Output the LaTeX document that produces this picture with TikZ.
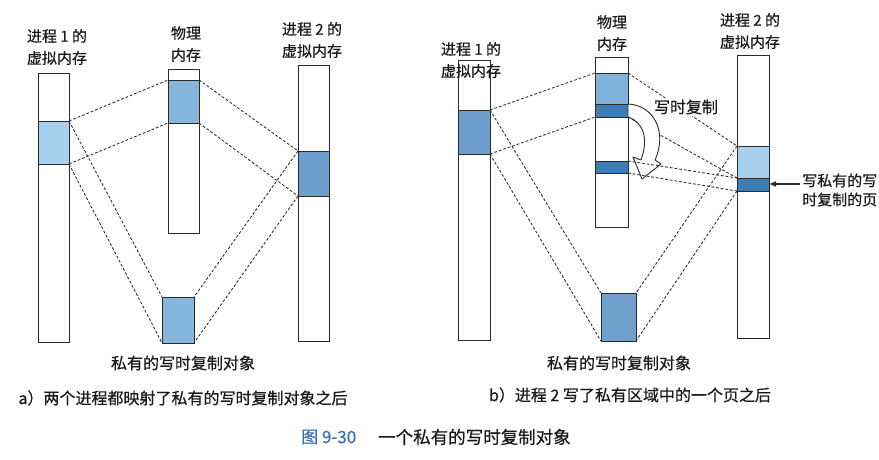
\documentclass[tikz,border=0pt]{standalone}
\usepackage{fontspec}
\setmainfont{Noto Sans CJK SC}[FakeBold=0.5]
\usetikzlibrary{arrows.meta}
\definecolor{linec}{HTML}{2A2A2A}
\definecolor{txtc}{HTML}{1A1A1A}
\definecolor{lightb}{HTML}{A6D0EE}
\definecolor{midb}{HTML}{86B6DE}
\definecolor{deepb}{HTML}{6E9FCC}
\definecolor{darkb}{HTML}{3F7DB7}
\definecolor{capblue}{HTML}{3A6FB0}
\tikzset{
  bar/.style={draw=linec, line width=0.9pt, inner sep=0pt, outer sep=0pt, anchor=north west},
  blk/.style={draw=linec, line width=0.9pt, inner sep=0pt, outer sep=0pt, anchor=north west},
  map/.style={draw=linec, line width=0.85pt, dash pattern=on 2.8pt off 1.9pt},
  lbl/.style={text=txtc, align=center, font=\fontsize{15}{22}\selectfont, inner sep=1pt},
  captext/.style={text=txtc, font=\fontsize{16}{20}\selectfont, inner sep=1pt},
}
\begin{document}
\begin{tikzpicture}[x=1pt,y=-1pt]
\fill[white] (0,0) rectangle (879,459);
\useasboundingbox (0,0) rectangle (879,459);

% ---------------- panel a ----------------
\node[bar, minimum width=31pt, minimum height=269pt] (v1a) at (38,73) {};
\node[blk, fill=lightb, minimum width=31pt, minimum height=43pt] (v1ab) at (38,121) {};
\node[bar, minimum width=31pt, minimum height=164pt] (pma) at (168,69) {};
\node[blk, fill=midb, minimum width=31pt, minimum height=43pt] (pmab) at (168,80) {};
\node[blk, fill=midb, minimum width=32pt, minimum height=46pt] (obja) at (162,297) {};
\node[bar, minimum width=31pt, minimum height=276pt] (v2a) at (298,65) {};
\node[blk, fill=deepb, minimum width=31pt, minimum height=45pt] (v2ab) at (298,151) {};

\node[lbl] (l1a) at (57,47) {进程 1 的\\虚拟内存};
\node[lbl] (l2a) at (186,44) {物理\\内存};
\node[lbl] (l3a) at (312,40) {进程 2 的\\虚拟内存};

\draw[map] (v1ab.north east) -- (pmab.north west);
\draw[map] (v1ab.south east) -- (pmab.south west);
\draw[map] (v1ab.north east) -- (obja.north west);
\draw[map] (v1ab.south east) -- (obja.south west);
\draw[map] (pmab.north east) -- (v2ab.north west);
\draw[map] (pmab.south east) -- (v2ab.south west);
\draw[map] (v2ab.north west) -- (obja.north east);
\draw[map] (v2ab.south west) -- (obja.south east);

\node[captext] (oa) at (183,363) {私有的写时复制对象};
\node[captext] (ca) at (183,398) {a）两个进程都映射了私有的写时复制对象之后};

% ---------------- panel b ----------------
\node[bar, minimum width=32pt, minimum height=280pt] (v1b) at (458,60) {};
\node[blk, fill=deepb, minimum width=32pt, minimum height=44pt] (v1bb) at (458,110) {};
\node[bar, minimum width=33pt, minimum height=170pt] (pmb) at (595,57) {};
\node[blk, fill=midb!85!deepb, minimum width=33pt, minimum height=31pt] (pmbb) at (595,73) {};
\node[blk, fill=darkb, minimum width=33pt, minimum height=13pt] (pmbd) at (595,104) {};
\node[blk, fill=darkb, minimum width=33pt, minimum height=12pt] (pmbc) at (595,161) {};
\node[blk, fill=deepb!90!midb, minimum width=35pt, minimum height=48pt] (objb) at (601,293) {};
\node[bar, minimum width=32pt, minimum height=283pt] (v2b) at (737,55) {};
\node[blk, fill=lightb, minimum width=32pt, minimum height=32pt] (v2bb) at (737,146) {};
\node[blk, fill=darkb, minimum width=32pt, minimum height=13pt] (v2bd) at (737,178) {};

\node[lbl] (l1b) at (471,60) {进程 1 的\\虚拟内存};
\node[lbl] (l2b) at (612,33) {物理\\内存};
\node[lbl] (l3b) at (750,31) {进程 2 的\\虚拟内存};

\draw[map] (v1bb.north east) -- (pmbb.north west);
\draw[map] (v1bb.south east) -- (pmbd.south west);
\draw[map] (v1bb.north east) -- (objb.north west);
\draw[map] (v1bb.south east) -- (objb.south west);
\draw[map] (pmbb.north east) -- (v2bb.north west);
\draw[map] (pmbd.south east) -- (v2bd.north west);
\draw[map] (v2bb.north west) -- (objb.north east);
\draw[map] (v2bd.south west) -- (objb.south east);

\node[lbl, fill=white, inner sep=2pt, font=\fontsize{16}{20}\selectfont] (cow) at (686,107) {写时复制};

% hollow curved arrow
\draw[linec, line width=0.9pt, fill=white, line join=round]
  (pmbd.north east) .. controls (653,105) and (668,131) .. (655,160)
  -- (661,164) -- (642,179) -- (633,157) -- (641,160)
  .. controls (649,138) and (643,122) .. (pmbd.south east) -- cycle;

\draw[map] (pmbc.north east) -- (v2bd.north west);
\draw[map] (pmbc.south east) -- (v2bd.south west);

\node[lbl, align=left, font=\fontsize{15}{19}\selectfont, anchor=west] (wp) at (801,190) {写私有的写\\时复制的页};
\coordinate (wpa) at (800,184);
\draw[linec, line width=1.2pt, -{Latex[length=7pt,width=6pt]}] (wpa) -- (v2bd.east |- wpa);

\node[captext] (ob) at (619,363) {私有的写时复制对象};
\node[captext] (cb) at (630,395) {b）进程 2 写了私有区域中的一个页之后};

% ---------------- figure caption ----------------
\node[text=capblue, font=\fontsize{17}{20}\selectfont, anchor=west, inner sep=0pt] (fig) at (301,437) {图 9-30};
\node[text=txtc, font=\fontsize{17.5}{20}\selectfont, anchor=west, inner sep=0pt] (figt) at (378,437) {一个私有的写时复制对象};
\end{tikzpicture}
\end{document}
